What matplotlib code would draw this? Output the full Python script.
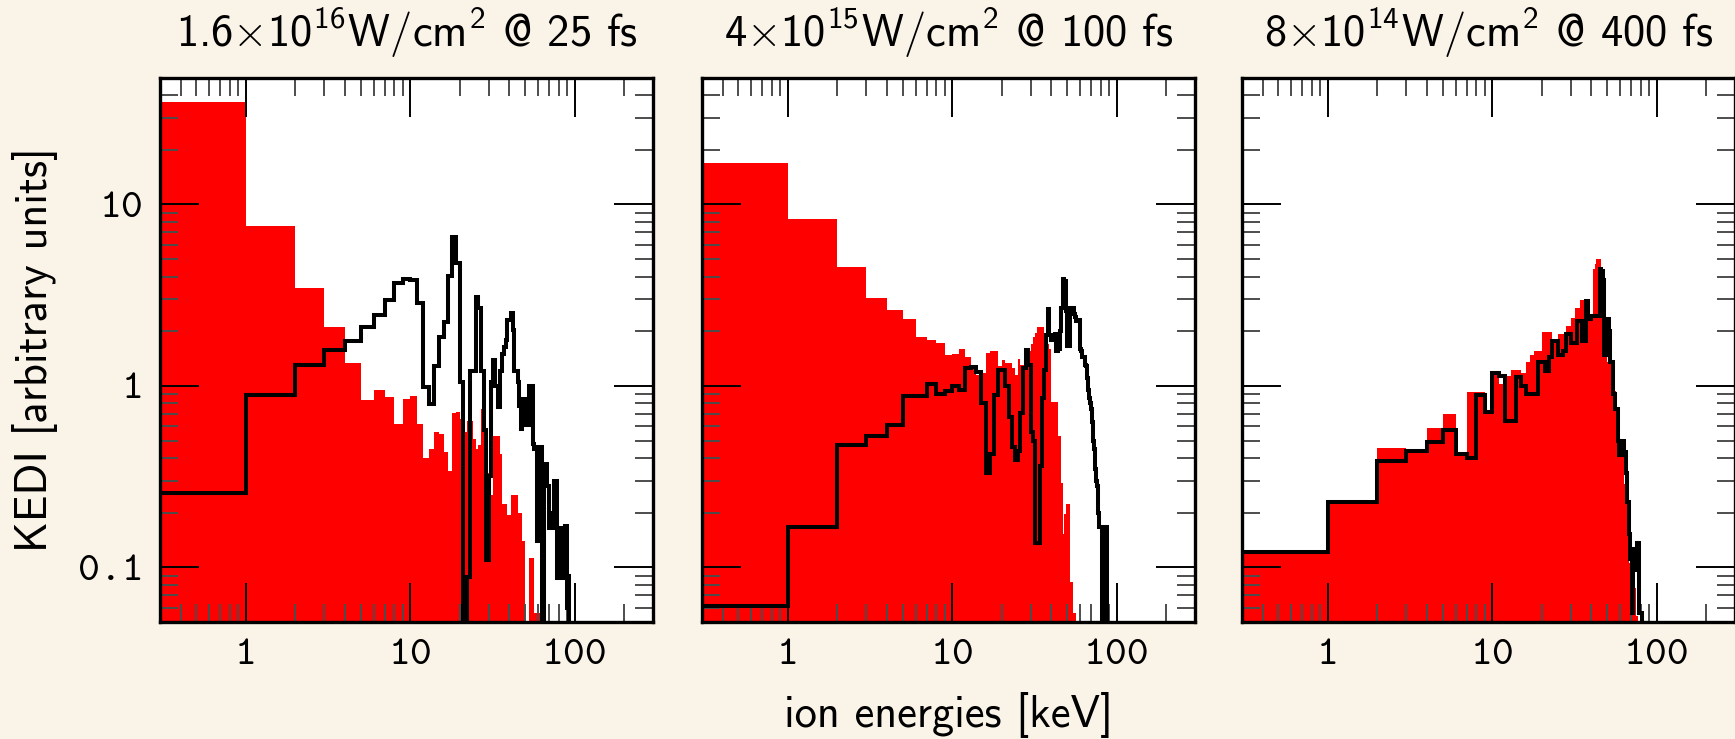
import numpy as np
import matplotlib
matplotlib.use("Agg")
import matplotlib.pyplot as plt
from matplotlib.ticker import LogLocator, NullFormatter

plt.rcParams["mathtext.fontset"] = "custom"
plt.rcParams["mathtext.rm"] = "cmss10"
plt.rcParams["mathtext.sf"] = "cmss10"
plt.rcParams["mathtext.it"] = "cmss10"
plt.rcParams["mathtext.tt"] = "cmtt10"
plt.rcParams["axes.unicode_minus"] = False

# KEDI histograms, 1 keV wide bins starting at 0 keV
titles = [
    r"1.6$\times$10$^{16}$W/cm$^2$ @ 25 fs",
    r"4$\times$10$^{15}$W/cm$^2$ @ 100 fs",
    r"8$\times$10$^{14}$W/cm$^2$ @ 400 fs",
]

p1_red = [
    36.8, 7.58, 3.46, 2.11, 1.34, 0.84, 0.95, 0.87, 0.62, 0.85,
    0.875, 0.62, 0.40, 0.45, 0.56, 0.54, 0.43, 0.34, 0.71, 0.72,
    0.66, 0.56, 0.64, 0.64, 0.51, 0.45, 0.47, 0.75, 0.75, 0.33,
    0.32, 0.25, 0.53, 0.53, 0.53, 0.42, 0.224, 0.224, 0.224, 0.195,
    0.195, 0.25, 0.25, 0.25, 0.25, 0.2, 0.2, 0.2, 0.14, 0.14,
    0, 0, 0, 0.112, 0.112, 0.112, 0.112, 0.056, 0.056, 0.056,
    0.056, 0.056,
]
p1_black = [
    0.257, 0.89, 1.30, 1.57, 1.77, 2.12, 2.46, 2.97, 3.67, 3.86,
    3.82, 2.85, 0.99, 0.79, 1.28, 1.87, 2.26, 4.02, 6.63, 4.78,
    1.05, 0, 0.089, 1.2, 1.2, 3.1, 2.67, 1.2, 0.57, 0.11,
    0.32, 1.05, 1.38, 1.0, 0.76, 1.2, 1.5, 1.64, 1.79, 2.31,
    2.31, 2.51, 2.03, 1.2, 1.2, 1.05, 0.77, 0.58, 0.85, 0.85,
    0.61, 0.61, 0.61, 1.0, 1.0, 1.0, 0.48, 0.45, 0.45, 0.14,
    0.46, 0.46, 0.46, 0.04, 0.04, 0.37, 0.37, 0.37, 0.28, 0.28,
    0.164, 0.164, 0.164, 0.164, 0.2, 0.30, 0.30, 0.30, 0.087, 0.087,
    0.164, 0.164, 0.164, 0.164, 0.087, 0.087, 0.087, 0.17, 0.17, 0.17,
    0.06, 0.09, 0.06,
]

p2_red = [
    16.8, 8.26, 4.5, 3.06, 2.63, 2.35, 1.87, 1.80, 1.73, 1.47,
    1.50, 1.60, 1.45, 1.30, 1.15, 1.17, 1.51, 1.56, 1.56, 1.29,
    1.39, 1.33, 1.33, 1.25, 1.15, 1.41, 1.30, 1.30, 1.45, 1.55,
    1.70, 1.85, 1.95, 2.12, 2.12, 2.12, 1.90, 1.80, 1.70, 1.60,
    0.82, 0.82, 0.82, 0.82, 0.53, 0.53, 0.29, 0.153, 0.196, 0.224,
    0.224, 0.224, 0.083, 0.083, 0.056, 0.056, 0.056,
]
p2_black = [
    0.061, 0.166, 0.475, 0.53, 0.61, 0.88, 0.88, 1.02, 0.905, 0.94,
    1.0, 0.95, 1.26, 1.27, 1.19, 0.8, 0.33, 0.42, 0.89, 1.23,
    1.23, 1.0, 0.67, 0.46, 0.39, 0.44, 0.71, 1.25, 1.58, 1.3,
    0.56, 0.5, 0.136, 0.136, 0.36, 0.86, 1.22, 1.9, 2.65, 1.9,
    1.8, 1.8, 1.94, 1.55, 1.6, 2.0, 2.7, 3.9, 3.8, 2.6,
    1.65, 1.65, 2.67, 2.6, 2.7, 2.5, 2.4, 2.29, 2.29, 2.3,
    1.6, 1.55, 1.45, 1.44, 1.3, 1.29, 1.1, 0.95, 0.86, 0.8,
    0.75, 0.63, 0.5, 0.45, 0.35, 0.3, 0.28, 0.2, 0.166, 0.166,
    0.166, 0.166, 0.05, 0.05, 0.166, 0.166, 0.166,
]

p3_red = [
    0.122, 0.23, 0.455, 0.44, 0.585, 0.70, 0.42, 0.92, 0.92, 0.73,
    1.2, 1.03, 1.13, 1.23, 1.23, 1.18, 1.35, 1.48, 1.55, 1.55,
    1.99, 1.99, 1.99, 1.77, 1.77, 1.94, 1.94, 1.94, 2.13, 2.13,
    2.38, 2.38, 2.67, 2.67, 2.99, 2.99, 2.99, 2.92, 2.44, 2.44,
    2.44, 4.4, 4.7, 4.99, 4.99, 4.99, 3.67, 3.67, 3.67, 2.33,
    1.35, 1.35, 1.35, 1.35, 0.94, 0.94, 0.94, 0.64, 0.64, 0.454,
    0.454, 0.454, 0.454, 0.288, 0.288, 0.288, 0.167, 0.167, 0.106, 0.106,
    0.106, 0.106, 0.077, 0.077, 0.077, 0.054, 0.054,
]
p3_black = [
    0.122, 0.23, 0.387, 0.44, 0.49, 0.57, 0.42, 0.40, 0.89, 0.715,
    1.18, 1.13, 0.64, 0.64, 1.115, 1.0, 0.9, 0.9, 0.9, 1.36,
    1.36, 1.2, 1.44, 1.77, 1.77, 1.48, 1.48, 1.55, 1.94, 1.94,
    1.73, 1.73, 1.73, 2.27, 2.27, 1.77, 1.77, 2.92, 2.33, 2.33,
    2.44, 2.44, 2.44, 2.44, 2.44, 4.4, 4.3, 3.84, 1.48, 2.33,
    2.33, 2.0, 1.35, 1.35, 0.9, 0.9, 0.75, 0.75, 0.497, 0.414,
    0.414, 0.414, 0.497, 0.434, 0.434, 0.33, 0.23, 0.23, 0.153, 0.111,
    0.111, 0.056, 0.127, 0.127, 0.097, 0.097, 0.136, 0.136, 0.056, 0.056,
    0.056,
]

reds = [p1_red, p2_red, p3_red]
blacks = [p1_black, p2_black, p3_black]

x_ticks = [1, 10, 100]
x_ticklabels = ["1", "10", "100"]
y_ticks = [0.1, 1, 10]
y_ticklabels = ["0.1", "1", "10"]

bg = "#FAF3E8"
floor = 1e-3


def draw_hist(ax, values, **kw):
    v = np.asarray(values, dtype=float)
    v = np.where(v > 0, v, floor)
    edges = np.arange(len(v) + 1, dtype=float)
    edges[0] = 1e-2  # first bin starts at 0 keV, off the log axis
    ax.stairs(v, edges, baseline=floor, **kw)


fig = plt.figure(figsize=(17.35, 7.39), dpi=100, facecolor=bg)
W, H = 1735.0, 739.0
lefts = [160, 702, 1242]
top, bottom, width = 77.5, 622.0, 493.0

for i in range(3):
    ax = fig.add_axes([lefts[i] / W, 1 - bottom / H, width / W, (bottom - top) / H])
    ax.set_facecolor("white")
    draw_hist(ax, reds[i], fill=True, color="#FF0000", linewidth=0, zorder=1)
    draw_hist(ax, blacks[i], fill=False, color="black", linewidth=2.9, zorder=2)

    ax.set_xscale("log")
    ax.set_yscale("log")
    ax.set_xlim(0.3, 300)
    ax.set_ylim(0.05, 50)

    ax.xaxis.set_minor_locator(LogLocator(base=10, subs=np.arange(2, 10)))
    ax.yaxis.set_minor_locator(LogLocator(base=10, subs=np.arange(2, 10)))
    ax.xaxis.set_minor_formatter(NullFormatter())
    ax.yaxis.set_minor_formatter(NullFormatter())

    ax.set_xticks(x_ticks)
    ax.set_xticklabels(x_ticklabels, fontfamily="cmtt10", fontsize=30)
    ax.set_yticks(y_ticks)
    if i == 0:
        ax.set_yticklabels(y_ticklabels, fontfamily="cmtt10", fontsize=30)
    else:
        ax.set_yticklabels([])

    ax.tick_params(which="both", direction="in", top=True, right=True)
    ax.tick_params(which="major", length=28, width=1.4, color="black")
    ax.tick_params(which="minor", length=13, width=1.4, color="0.3")
    ax.tick_params(axis="x", which="major", pad=12)
    ax.tick_params(axis="y", which="major", pad=12)

    for sp in ax.spines.values():
        sp.set_linewidth(2.4)

    ax.set_title(titles[i], fontsize=32, family="cmss10", pad=22)

fig.text(948 / W, 1 - 727 / H, "ion energies [keV]", family="cmss10",
         fontsize=32, ha="center", va="baseline")
fig.text(35 / W, 1 - 350 / H, "KEDI [arbitrary units]", family="cmss10",
         fontsize=32, rotation=90, ha="center", va="center")

fig.savefig("out.png", dpi=100, facecolor=bg)
